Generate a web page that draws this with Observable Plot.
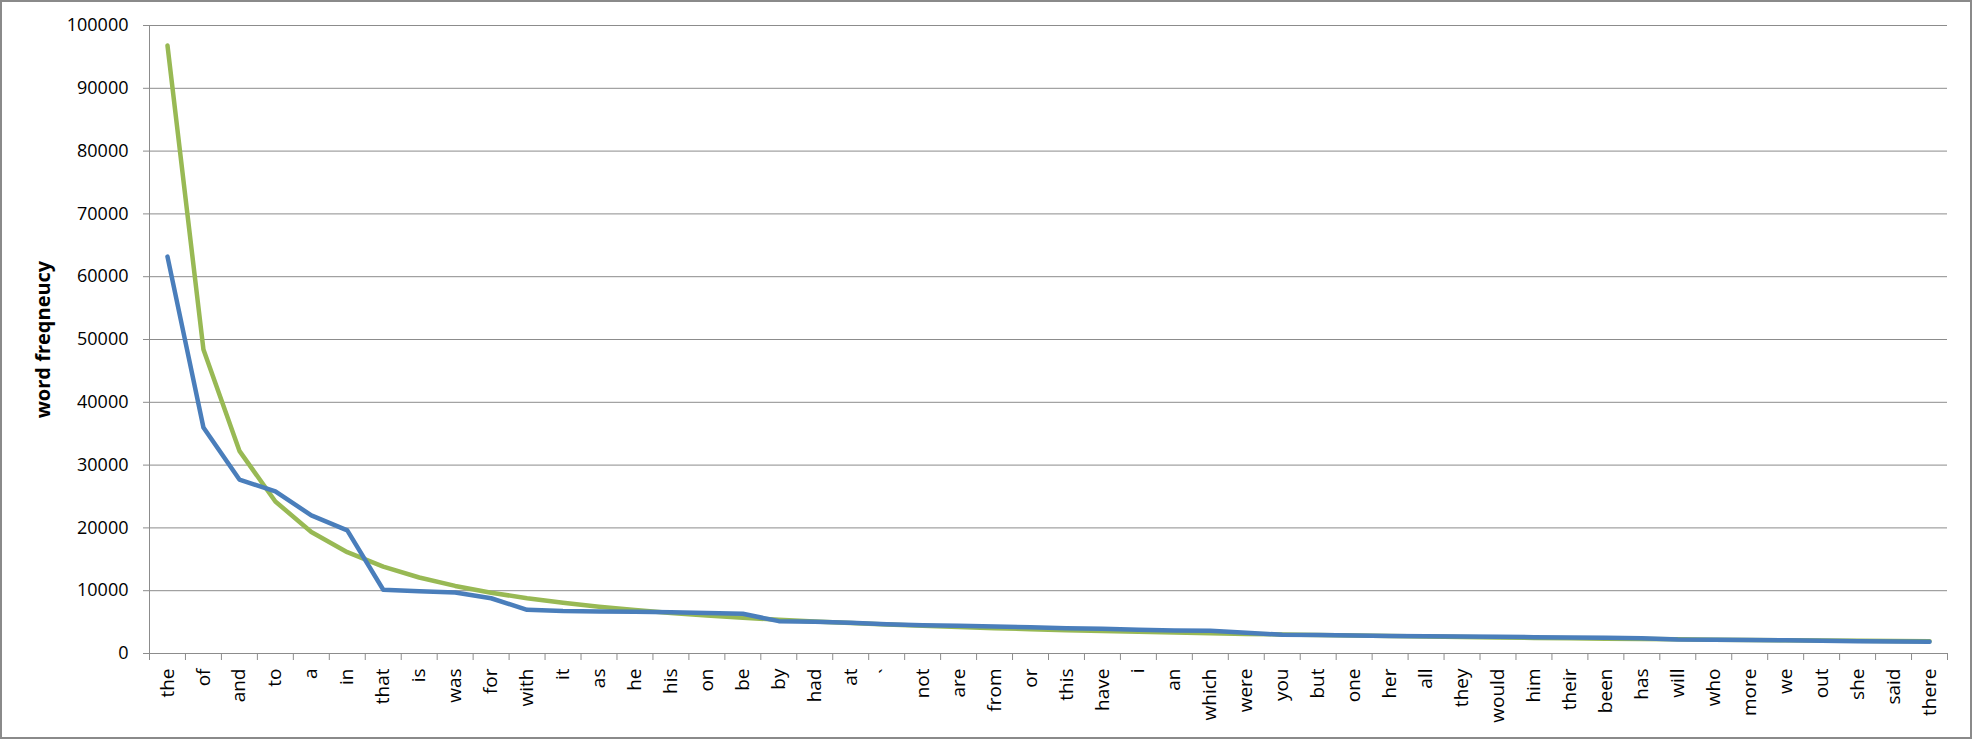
<!DOCTYPE html>
<html>
<head>
<meta charset="utf-8">
<script src="https://cdn.jsdelivr.net/npm/d3@7"></script>
<script src="https://cdn.jsdelivr.net/npm/@observablehq/plot@0.6"></script>
<style>
  html, body { margin: 0; padding: 0; background: #fff; }
  #chart svg { display: block; outline: 2px solid #8a8a8a; outline-offset: -2px; }
</style>
</head>
<body>
<div id="chart"></div>
<script>
const words = ["the","of","and","to","a","in","that","is","was","for","with","it","as","he","his","on","be","by","had","at","`","not","are","from","or","this","have","i","an","which","were","you","but","one","her","all","they","would","him","their","been","has","will","who","more","we","out","she","said","there"];

const observed = [63200, 36000, 27700, 25800, 22000, 19600, 10150, 9900, 9700, 8800,
                  6950, 6750, 6700, 6650, 6550, 6450, 6320, 5150, 5050, 4880,
                  4670, 4510, 4400, 4300, 4190, 4030, 3950, 3800, 3650, 3620,
                  3300, 2980, 2930, 2870, 2800, 2740, 2700, 2650, 2600, 2560,
                  2500, 2430, 2230, 2200, 2150, 2100, 2050, 1950, 1900, 1870];

const expected = [96800, 48400, 32270, 24200, 19360, 16130, 13830, 12100, 10760, 9680,
                  8800, 8070, 7450, 6910, 6450, 6050, 5690, 5380, 5090, 4840,
                  4610, 4400, 4210, 4030, 3870, 3720, 3590, 3460, 3340, 3230,
                  3120, 3030, 2930, 2850, 2770, 2690, 2620, 2550, 2480, 2420,
                  2360, 2300, 2250, 2200, 2150, 2100, 2060, 2020, 1980, 1940];

const yTicks = [0, 10000, 20000, 30000, 40000, 50000, 60000, 70000, 80000, 90000, 100000];
const yTitle = "word freqneucy";

const rows = words.map((w, i) => ({i, w, observed: observed[i], expected: expected[i]}));
const centers = words.map((_, i) => i);
const boundaries = words.map((_, i) => i - 0.5).concat([words.length - 0.5]);

const grid = "#8c8c8c";

const chart = Plot.plot({
  width: 1972,
  height: 739,
  marginLeft: 149,
  marginRight: 25,
  marginTop: 25,
  marginBottom: 86,
  style: {fontFamily: "'Open Sans', sans-serif", fontSize: "18px", color: "#000", background: "#fff"},
  x: {type: "linear", domain: [-0.5, words.length - 0.5]},
  y: {domain: [0, 100000]},
  marks: [
    Plot.gridY(yTicks, {stroke: grid, strokeOpacity: 1}),
    Plot.axisY(yTicks, {tickSize: 6, tickPadding: 15, stroke: grid, tickFormat: d => String(d), label: null}),
    Plot.axisX(boundaries, {tickSize: 7, stroke: grid, tickFormat: () => "", label: null}),
    Plot.axisX(centers, {tickSize: 0, tickPadding: 15, tickRotate: -90, fontSize: 19, tickFormat: i => words[i], label: null}),
    Plot.ruleY([0], {stroke: grid}),
    Plot.ruleX([-0.5], {stroke: grid}),
    Plot.lineY(rows, {x: "i", y: "expected", stroke: "#98B954", strokeWidth: 4.5, strokeLinecap: "round", strokeLinejoin: "round"}),
    Plot.lineY(rows, {x: "i", y: "observed", stroke: "#4A7EBB", strokeWidth: 4.5, strokeLinecap: "round", strokeLinejoin: "round"}),
    Plot.text([yTitle], {frameAnchor: "left", dx: -106, rotate: -90, textAnchor: "middle", fontWeight: "bold", fontSize: 20, fill: "#000"})
  ]
});
document.getElementById("chart").appendChild(chart);
</script>
</body>
</html>
